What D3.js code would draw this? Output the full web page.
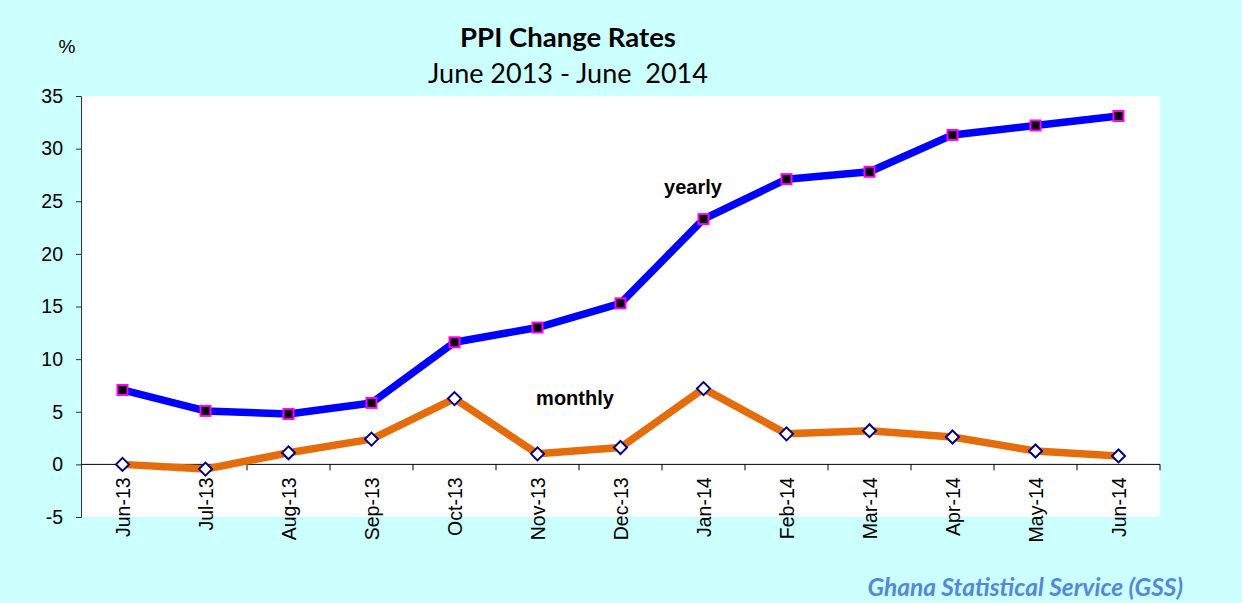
<!DOCTYPE html>
<html><head><meta charset="utf-8">
<script src="https://cdn.jsdelivr.net/npm/d3@7"></script>
<style>
html,body{margin:0;padding:0;background:#ccffff;}
svg{display:block;}
</style></head>
<body>
<svg id="chart" width="1242" height="603"></svg>
<script>
const categories = ["Jun-13","Jul-13","Aug-13","Sep-13","Oct-13","Nov-13","Dec-13","Jan-14","Feb-14","Mar-14","Apr-14","May-14","Jun-14"];
const yearly  = [7.07, 5.08, 4.79, 5.84, 11.6, 13.0, 15.3, 23.3, 27.1, 27.8, 31.3, 32.2, 33.1];
const monthly = [0.0, -0.45, 1.1, 2.4, 6.25, 1.0, 1.6, 7.2, 2.9, 3.2, 2.6, 1.27, 0.8];
const yTicks = [-5, 0, 5, 10, 15, 20, 25, 30, 35];

(function(){
const svg = d3.select("#chart");
const W = 1242, H = 603;
svg.append("rect").attr("width", W).attr("height", H).attr("fill", "#ccffff");

const pL = 81, pR = 1160, pT = 96, pB = 517;
svg.append("rect").attr("x", pL).attr("y", pT).attr("width", pR-pL).attr("height", pB-pT).attr("fill", "#ffffff");

const x = d3.scaleBand().domain(categories).range([pL, pR]).padding(0);
const y = d3.scaleLinear().domain([-5, 35]).range([pB, pT]);
const cx = d => x(d) + x.bandwidth()/2;
const AF = "Liberation Sans, Arial, sans-serif";

// Y axis
const yAxis = d3.axisLeft(y).tickValues(yTicks).tickSize(5).tickPadding(13).tickFormat(d => String(d));
const gy = svg.append("g").attr("transform", `translate(${pL},0)`).call(yAxis);
gy.select(".domain").attr("stroke", "#333");
gy.selectAll(".tick line").attr("stroke", "#333");
gy.selectAll("text").attr("font-family", AF).attr("font-size", 19.5).attr("fill", "#000");

// X axis line at zero
const y0 = y(0);
svg.append("line").attr("x1", pL).attr("x2", pR).attr("y1", y0).attr("y2", y0).attr("stroke", "#000").attr("stroke-width", 1);
const boundaries = categories.map(c => x(c)).slice(1).concat([pR]);
svg.append("g").selectAll("line").data(boundaries).join("line")
  .attr("x1", d => d).attr("x2", d => d).attr("y1", y0).attr("y2", y0 + 6)
  .attr("stroke", "#000");
svg.append("g").selectAll("text").data(categories).join("text")
  .attr("transform", d => `translate(${cx(d)+7},${y0 + 13}) rotate(-90)`)
  .attr("text-anchor", "end")
  .attr("font-family", AF).attr("font-size", 19.5).attr("fill", "#000")
  .text(d => d);

// Lines
const line = d3.line().x((d,i) => cx(categories[i])).y(d => y(d));
svg.append("path").datum(monthly).attr("d", line).attr("fill", "none").attr("stroke", "#e46c0a").attr("stroke-width", 7.5).attr("stroke-linejoin", "round");
svg.append("path").datum(yearly).attr("d", line).attr("fill", "none").attr("stroke", "#0000ff").attr("stroke-width", 7.5).attr("stroke-linejoin", "round");

// markers
const sq = 10;
svg.append("g").selectAll("rect").data(yearly).join("rect")
  .attr("x", (d,i) => cx(categories[i]) - sq/2).attr("y", d => y(d) - sq/2)
  .attr("width", sq).attr("height", sq)
  .attr("fill", "#000").attr("stroke", "#ff00ff").attr("stroke-width", 2);
const dm = 6.5;
svg.append("g").selectAll("path").data(monthly).join("path")
  .attr("d", (d,i) => {const px = cx(categories[i]), py = y(d); return `M${px},${py-dm}L${px+dm},${py}L${px},${py+dm}L${px-dm},${py}Z`;})
  .attr("fill", "#fff").attr("stroke", "#000080").attr("stroke-width", 2);

// series labels
svg.append("text").attr("x", 693).attr("y", 194).attr("text-anchor", "middle")
  .attr("font-family", AF).attr("font-weight", "bold").attr("font-size", 20).text("yearly");
svg.append("text").attr("x", 575).attr("y", 405).attr("text-anchor", "middle")
  .attr("font-family", AF).attr("font-weight", "bold").attr("font-size", 20).text("monthly");

// titles
svg.append("text").attr("x", 568).attr("y", 47).attr("text-anchor", "middle")
  .attr("font-family", "Lato, sans-serif").attr("font-weight", "bold").attr("font-size", 27.5).text("PPI Change Rates");
svg.append("text").attr("x", 568).attr("y", 83).attr("text-anchor", "middle")
  .attr("font-family", "Lato, sans-serif").attr("font-size", 27).style("white-space", "pre").text("June 2013 - June  2014");
svg.append("text").attr("x", 67).attr("y", 53).attr("text-anchor", "middle")
  .attr("font-family", AF).attr("font-size", 19).text("%");

// footer
svg.append("text").attr("x", 1183).attr("y", 596).attr("text-anchor", "end")
  .attr("font-family", "Lato, sans-serif").attr("font-weight", "bold").attr("font-style", "italic").attr("font-size", 24.5)
  .attr("fill", "#5588d8").text("Ghana Statistical Service (GSS)");
})();
</script>
</body></html>
